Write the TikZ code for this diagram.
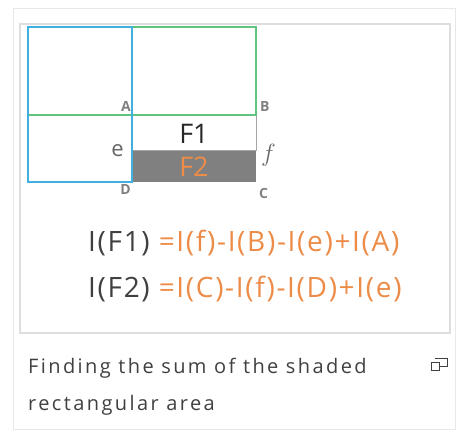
\documentclass[tikz,border=0pt]{standalone}
\usepackage{fontspec}
\setmainfont{Open Sans}
\usepackage{tikz}
\usetikzlibrary{positioning,calc}
\definecolor{SumBlue}{RGB}{64,176,222}
\definecolor{SumGreen}{RGB}{96,196,128}
\definecolor{SumOrange}{RGB}{236,140,72}
\definecolor{SumGray}{RGB}{128,128,128}
\definecolor{FrameGray}{RGB}{222,222,222}
\definecolor{TextGray}{RGB}{64,64,64}

\begin{document}
\begin{tikzpicture}[x=1pt,y=-1pt,every node/.style={inner sep=0pt}]
\tikzset{corner/.style={font=\fontsize{14}{14}\selectfont\bfseries,text=SumGray},
  side/.style={text=TextGray!80},
  eqn/.style={font=\fontsize{28}{28}\selectfont\addfontfeature{LetterSpace=6},anchor=base west},
  strip/.style={font=\fontsize{27}{27}\selectfont}}
\useasboundingbox (0,0) rectangle (457,431);
% frames
\draw[FrameGray!70] (13,8) rectangle (455,429);
\draw[FrameGray,line width=1.2pt] (20,24) rectangle (450,333);
% corner points
\coordinate (A) at (132,115); \coordinate (B) at (256,115);
\coordinate (e) at (132,150); \coordinate (f) at (256,150);
\coordinate (D) at (132,182); \coordinate (C) at (256,182);
% shaded strip and boxes
\fill[SumGray] (e) rectangle (C);
\draw[SumGray!70,line width=1pt] (A) rectangle (f);
\draw[SumGreen,line width=1.2pt] (28,27) rectangle (B);
\draw[SumBlue,line width=1.2pt] (28,27) -- (A |- 28,27) -- (D) -- (28,182) -- cycle;
\node[strip,text=TextGray!60!black] (F1) at ($(A)!.5!(f)+(0,1)$) {F1};
\node[strip,text=SumOrange] (F2) at ($(e)!.5!(C)+(0,1)$) {F2};
% labels
\node[corner,anchor=south east] (lA) at ($(A)+(-1,-3)$) {A};
\node[corner,anchor=south west] (lB) at ($(B)+(4,-3)$) {B};
\node[corner,anchor=north east] (lD) at ($(D)+(-1,2)$) {D};
\node[corner,anchor=north west] (lC) at ($(C)+(3,6)$) {C};
\node[side,font=\fontsize{22}{22}\selectfont\addfontfeature{Weight=300},anchor=east] (le) at ($(e)+(-8,1)$) {e};
\node[side,font=\fontsize{25}{25}\selectfont,anchor=west] (lf) at ($(f)+(5,5)$) {$f$};
% formulas
\node[eqn] (eq1) at (88,251) {\textcolor{TextGray}{I(F1)}\hspace*{9pt}\textcolor{SumOrange}{=I(f)-I(B)-I(e)+I(A)}};
\node[eqn] (eq2) at (88,297) {\textcolor{TextGray}{I(F2)}\hspace*{9pt}\textcolor{SumOrange}{=I(C)-I(f)-I(D)+I(e)}};
% caption
\node[font=\fontsize{20}{37}\selectfont\addfontfeature{LetterSpace=12},text=TextGray,align=left,anchor=base west] (cap) at (28,410)
  {Finding the sum of the shaded\\rectangular area};
\draw[TextGray,line width=1pt] (431,362) rectangle (439,370) (435,358) -- (447,358) -- (447,366) -- (439,366);
\end{tikzpicture}
\end{document}
